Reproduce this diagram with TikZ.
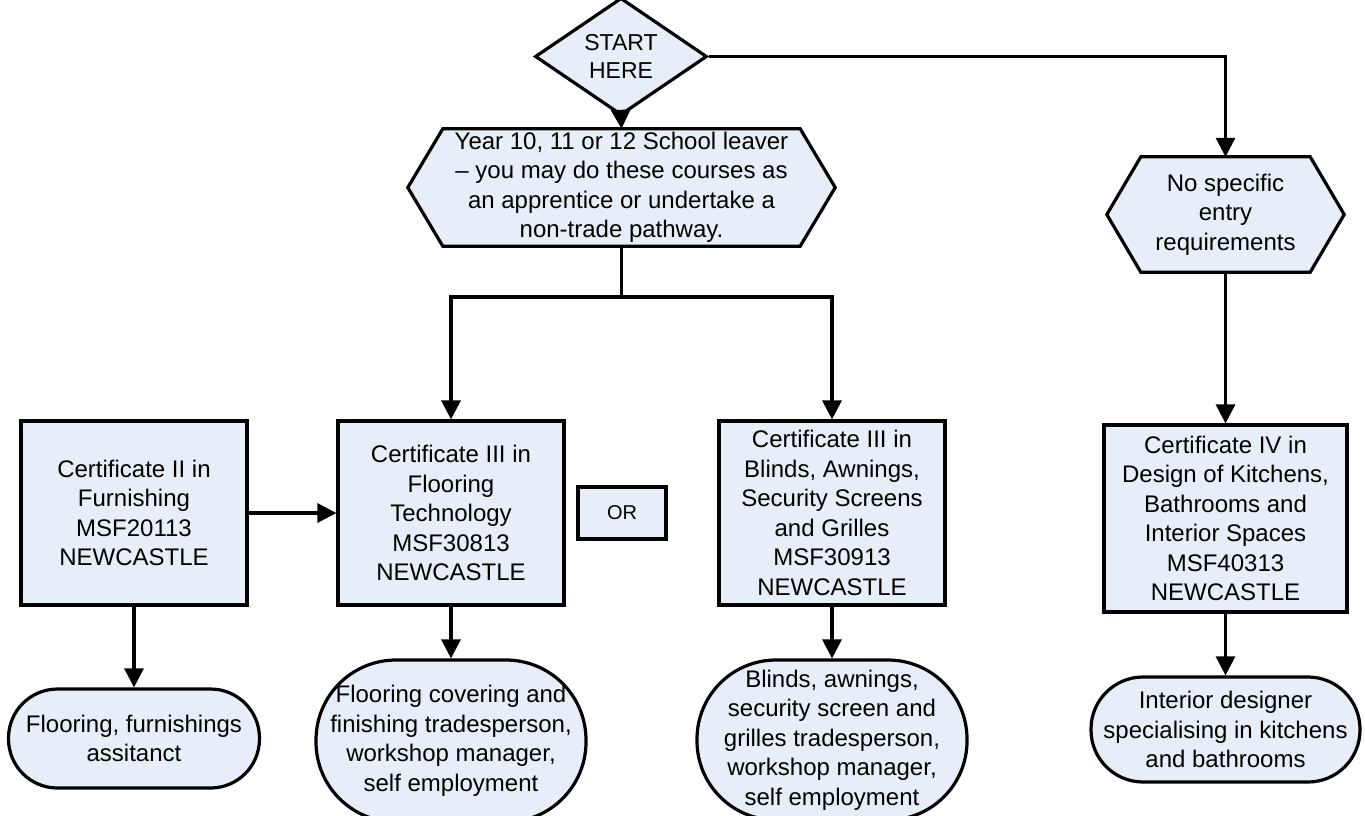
\documentclass[tikz,border=0pt]{standalone}
\usepackage{fontspec}
\setmainfont{Liberation Sans}
\usetikzlibrary{arrows.meta,shapes.geometric,backgrounds}
\definecolor{boxfill}{RGB}{232,238,247}
\begin{document}
\begin{tikzpicture}[x=1pt,y=-1pt,
  base/.style={line width=3.2pt, draw=black, fill=boxfill, align=center, inner sep=0pt,
    font=\fontsize{24}{29.5}\selectfont},
  certbox/.style={base, rectangle},
  plain/.style={align=center, inner sep=0pt, font=\fontsize{24}{29.5}\selectfont},
  hexline/.style={line width=3.2pt, draw=black, fill=boxfill, line join=miter},
  terminal/.style={base, rectangle},
  conn/.style={line width=3.2pt, draw=black, -{Triangle[length=19pt,width=19pt]}},
  link/.style={line width=3.2pt, draw=black}]
\useasboundingbox (0,0) rectangle (1365,815);
\clip (0,0) rectangle (1365,815);

% start diamond
\node[base, diamond, minimum width=172pt, minimum height=103pt,
      font=\fontsize{23}{28}\selectfont] (start) at (621,56.5) {START\\HERE};

% hexagons (text nodes, outlines drawn on background)
\node[plain, minimum width=427pt, minimum height=117pt] (hex1) at (621.5,187.5)
  {Year 10, 11 or 12 School leaver\\– you may do these courses as\\an apprentice or undertake a\\non-trade pathway.};
\node[plain, minimum width=237pt, minimum height=115pt] (hex2) at (1225.5,214.5)
  {No specific\\entry\\requirements};
\begin{scope}[on background layer]
  \path[hexline] ([xshift=35pt]hex1.north west) -- ([xshift=-35pt]hex1.north east) -- (hex1.east)
    -- ([xshift=-35pt]hex1.south east) -- ([xshift=35pt]hex1.south west) -- (hex1.west) -- cycle;
  \path[hexline] ([xshift=34pt]hex2.north west) -- ([xshift=-34pt]hex2.north east) -- (hex2.east)
    -- ([xshift=-34pt]hex2.south east) -- ([xshift=34pt]hex2.south west) -- (hex2.west) -- cycle;
\end{scope}

% certificate boxes
\node[certbox, minimum width=226pt, minimum height=184pt] (box1) at (134,513)
  {Certificate II in\\Furnishing\\MSF20113\\NEWCASTLE};
\node[certbox, minimum width=226pt, minimum height=184pt] (box2) at (451,513)
  {Certificate III in\\Flooring\\Technology\\MSF30813\\NEWCASTLE};
\node[certbox, minimum width=88pt, minimum height=52pt, font=\fontsize{20}{24}\selectfont] (or) at (622,513) {OR};
\node[certbox, minimum width=226pt, minimum height=184pt] (box3) at (832,513)
  {Certificate III in\\Blinds, Awnings,\\Security Screens\\and Grilles\\MSF30913\\NEWCASTLE};
\node[certbox, minimum width=243pt, minimum height=187pt] (box4) at (1225.5,518.5)
  {Certificate IV in\\Design of Kitchens,\\Bathrooms and\\Interior Spaces\\MSF40313\\NEWCASTLE};

% outcome terminals
\node[terminal, minimum width=251pt, minimum height=99pt, rounded corners=49pt] (t1) at (134,738.5)
  {Flooring, furnishings\\assitanct};
\node[terminal, minimum width=270pt, minimum height=162pt, rounded corners=80pt] (t2) at (451,741)
  {Flooring covering and\\finishing tradesperson,\\workshop manager,\\self employment};
\node[terminal, minimum width=270pt, minimum height=160pt, rounded corners=79pt] (t3) at (832,740)
  {Blinds, awnings,\\security screen and\\grilles tradesperson,\\workshop manager,\\self employment};
\node[terminal, minimum width=269pt, minimum height=105pt, rounded corners=52pt] (t4) at (1225.5,729.5)
  {Interior designer\\specialising in kitchens\\and bathrooms};

% connectors
\draw[conn] (start.south) -- (hex1.north);
\draw[conn] (start.east) -| (hex2.north);
\coordinate (split) at (hex1.south |- 0,297);
\draw[link] (hex1.south) -- (split);
\draw[conn] (split) -| (box2.north);
\draw[conn] (split) -| (box3.north);
\draw[conn] (hex2.south) -- (box4.north);
\draw[conn] (box1.east) -- (box2.west);
\draw[conn] (box1.south) -- (t1.north);
\draw[conn] (box2.south) -- (t2.north);
\draw[conn] (box3.south) -- (t3.north);
\draw[conn] (box4.south) -- (t4.north);
\end{tikzpicture}
\end{document}
